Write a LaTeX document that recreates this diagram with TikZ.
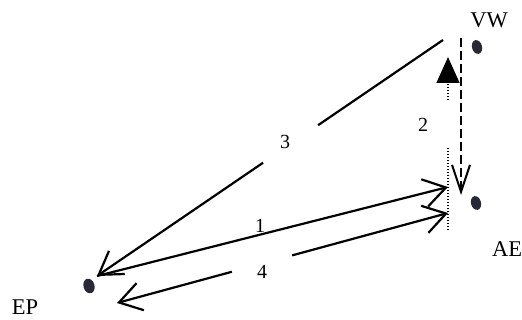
\documentclass[tikz,border=0pt]{standalone}
\usepackage{fontspec}
\setmainfont{Liberation Serif}
\usetikzlibrary{arrows.meta,calc,shapes.geometric}
\definecolor{dotc}{RGB}{40,40,55}
\tikzset{
  dotnode/.style={ellipse,fill=dotc,draw=none,inner sep=0pt,minimum width=10pt,minimum height=14pt,rotate=15},
  biglabel/.style={font=\fontsize{22.5}{24}\selectfont,inner sep=0pt},
  numlabel/.style={font=\fontsize{20}{22}\selectfont,inner sep=0pt},
  solidline/.style={line width=2.2pt},
  dashline/.style={line width=2pt,dash pattern=on 9pt off 4pt},
  dotline/.style={line width=1.4pt,dash pattern=on 1.3pt off 1.7pt}
}
\begin{document}
\begin{tikzpicture}[x=1pt,y=-1pt]
\useasboundingbox (0,0) rectangle (522,320);
% points
\node[dotnode] (vw) at (477,47) {};
\node[dotnode] (ae) at (476,203) {};
\node[dotnode,minimum width=11pt,minimum height=15pt] (ep) at (89,286) {};
\node[biglabel] (vwl) at (489,20) {VW};
\node[biglabel] (ael) at (507,249) {AE};
\node[biglabel] (epl) at (25,307) {EP};
% connector end points
\coordinate (s3) at (443,40);
\coordinate (t3) at (97,276);
\coordinate (t1) at (448,187);
\coordinate (a4) at (448,213);
\coordinate (b4) at (117,303);
\coordinate (d2a) at (461,38);
\coordinate (d2b) at (461,195);
\coordinate (u2a) at (448,230);
\coordinate (u2b) at (448,148);
\coordinate (u2c) at (448,100);
\coordinate (u2d) at (448,57);
% arrow 3
\draw[solidline] (s3) -- ($(s3)!0.361!(t3)$);
\draw[solidline,-{Straight Barb[length=22pt,width=28pt]}] ($(s3)!0.520!(t3)$) -- (t3);
\node[numlabel] (n3) at (285,142) {3};
% arrow 1
\draw[solidline,-{Straight Barb[length=22pt,width=28pt]}] (t3) -- (t1);
\node[numlabel] (n1) at (260,226) {1};
% arrow 4
\draw[solidline,{Straight Barb[length=22pt,width=28pt]}-] (a4) -- ($(a4)!0.471!(b4)$);
\draw[solidline,-{Straight Barb[length=22pt,width=28pt]}] ($(a4)!0.653!(b4)$) -- (b4);
\node[numlabel] (n4) at (262,272) {4};
% arrow 2 down (dashed)
\draw[dashline,-{Straight Barb[length=27pt,width=18pt]}] (d2a) -- (d2b);
% arrow 2 up (dotted)
\draw[dotline] (u2a) -- (u2b);
\draw[dotline,-{Triangle[length=26pt,width=23pt]}] (u2c) -- (u2d);
\node[numlabel] (n2) at (423,125) {2};
\end{tikzpicture}
\end{document}
